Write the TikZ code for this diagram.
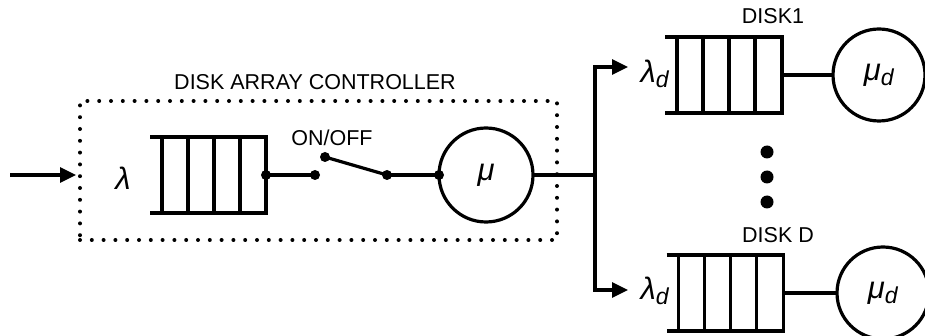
\documentclass[tikz,border=0pt]{standalone}
\usepackage{fontspec}
\setmainfont{Liberation Sans}
\usetikzlibrary{arrows.meta}
\newcommand\drawqueue[1]{%
  \draw[qline] (#1.north west) -- (#1.north east) -- (#1.south east) -- (#1.south west);
  \foreach \o in {12,38,64,90} \draw[qline] ([xshift=\o pt]#1.north west) -- ([xshift=\o pt]#1.south west);
}
\newcommand\gsub[2]{\textit{#1}\raisebox{-0.3ex}{\fontsize{23}{26}\selectfont\textit{#2}}}
\begin{document}
\begin{tikzpicture}[x=1pt,y=1pt,
  qline/.style={line width=3.2pt},
  conn/.style={line width=3.2pt},
  queuebox/.style={minimum width=116pt, minimum height=76pt, inner sep=0pt, outer sep=0pt},
  server/.style={circle, draw, line width=3.2pt, inner sep=0pt, outer sep=0pt, minimum size=#1},
  lbl/.style={font=\fontsize{21.5}{24}\selectfont, inner sep=0pt},
  greek/.style={font=\fontsize{31}{34}\selectfont, inner sep=0pt},
  junction/.style={circle, fill, inner sep=0pt, minimum size=10pt},
  bigdot/.style={circle, fill, inner sep=0pt, minimum size=13pt},
  dotbox/.style={draw, line width=4pt, line cap=round, dash pattern=on 0pt off 11.8pt, inner sep=0pt, minimum width=477pt, minimum height=139pt},
  arr/.style={-{Triangle[length=16pt,width=15pt]}, line width=3.2pt}
]
\useasboundingbox (0,0) rectangle (925,-336);

% controller
\node[dotbox] (ctrl) at (318.5,-170.5) {};
\node[lbl] (title) at (315,-82) {DISK ARRAY CONTROLLER};
\node[greek] (lam) at (123,-178) {\textit{λ}};
\node[queuebox] (q0) at (208,-175) {};
\drawqueue{q0}
\node[server=94pt] (mu) at (486,-175) {};
\node[greek] at (mu.center) {\textit{μ}};
\node[junction] (j0) at (q0.east) {};
\node[junction] (s1) at (315,-175) {};
\node[junction] (s2) at (325,-157) {};
\node[junction] (s3) at (387,-175) {};
\node[junction] (j1) at (mu.west) {};
\node[lbl] (onoff) at (332,-138) {ON/OFF};
\draw[conn] (j0.center) -- (s1.center);
\draw[conn] (s2.center) -- (s3.center);
\draw[conn] (s3.center) -- (j1.center);

% input
\coordinate (in) at (10,-175);
\draw[arr] (in) -- ([xshift=-2pt]ctrl.west |- in);

% branch
\coordinate (br) at (595,-175);
\coordinate (up) at (595,-67);
\coordinate (dn) at (595,-290);
\coordinate (t1) at (628,-67);
\coordinate (t2) at (628,-290);
\draw[conn] (mu.east) -- (br);
\draw[arr] (br) -- (up) -- (t1);
\draw[arr] (br) -- (dn) -- (t2);

% disk 1
\node[lbl] (d1) at (773,-16) {DISK1};
\node[queuebox, minimum width=117pt] (q1) at (723.5,-75) {};
\drawqueue{q1}
\node[greek] (l1) at (655,-74) {\gsub{λ}{d}};
\node[server=92pt] (m1) at (879,-75) {};
\node[greek] at (m1.center) {\gsub{μ}{d}};
\draw[conn] (q1.east) -- (m1.west);

% ellipsis
\node[bigdot] (e1) at (767,-152) {};
\node[bigdot] (e2) at (767,-177) {};
\node[bigdot] (e3) at (767,-202) {};

% disk D
\node[lbl] (dD) at (778,-235) {DISK D};
\node[queuebox, minimum width=117pt] (q2) at (725,-293) {};
\drawqueue{q2}
\node[greek] (l2) at (655,-291) {\gsub{λ}{d}};
\node[server=92pt] (m2) at (883,-293) {};
\node[greek] at (m2.center) {\gsub{μ}{d}};
\draw[conn] (q2.east) -- (m2.west);
\end{tikzpicture}
\end{document}
